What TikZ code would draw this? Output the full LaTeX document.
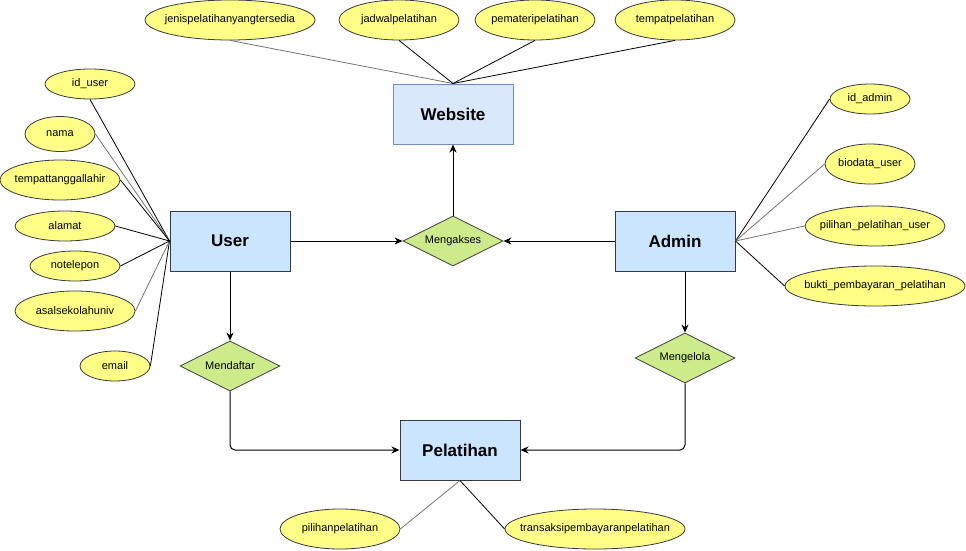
\documentclass[tikz,border=0pt]{standalone}
\usepackage{fontspec}
\setmainfont{Liberation Sans}
\usetikzlibrary{shapes}
\usetikzlibrary{arrows.meta}

\definecolor{entityfill}{HTML}{CCE5FF}
\definecolor{webfill}{HTML}{DAE8FC}
\definecolor{webline}{HTML}{6C8EBF}
\definecolor{attrfill}{HTML}{FFFF88}
\definecolor{relfill}{HTML}{CDEB8B}
\definecolor{darkline}{HTML}{36393D}

\begin{document}
\begin{tikzpicture}[x=1pt,y=-1pt]
	\tikzstyle{entity}=[rectangle,draw=darkline,fill=entityfill,line width=1pt,minimum width=120pt,minimum height=60pt,inner sep=0pt,font=\fontsize{17}{20}\selectfont\bfseries]
	\tikzstyle{web entity}=[entity,draw=webline,fill=webfill]
	\tikzstyle{attribute}=[ellipse,draw=darkline,fill=attrfill,line width=0.8pt,inner xsep=-25pt,inner ysep=0pt,minimum height=30pt,font=\fontsize{11}{13}\selectfont]
	\tikzstyle{relation}=[diamond,aspect=2,draw=darkline,fill=relfill,line width=0.8pt,inner sep=0pt,minimum width=100pt,minimum height=50pt,font=\fontsize{11}{13}\selectfont]
	\tikzstyle{edge}=[-,black,line width=0.8pt]
	\tikzstyle{light edge}=[-,black!55,line width=0.8pt]
	\tikzstyle{arrow}=[-{Stealth[length=8pt,width=7pt,inset=2.5pt]},black,line width=1pt]

	\useasboundingbox (0,0) rectangle (966,551);

	% entitas
	\node[web entity] (website) at (453,114) {Website};
	\node[entity] (user) at (230,241) {User};
	\node[entity] (admin) at (675,241) {Admin};
	\node[entity] (pelatihan) at (460,450) {Pelatihan};

	% relasi
	\node[relation] (mengakses) at (453,241) {Mengakses};
	\node[relation] (mendaftar) at (230,366) {Mendaftar};
	\node[relation] (mengelola) at (685,358) {Mengelola};

	% atribut website
	\node[attribute,minimum width=170pt,minimum height=40pt] (jenis) at (230,20) {jenispelatihanyangtersedia};
	\node[attribute,minimum width=120pt,minimum height=40pt] (jadwal) at (399,20) {jadwalpelatihan};
	\node[attribute,minimum width=120pt,minimum height=40pt] (pemateri) at (535,20) {pemateripelatihan};
	\node[attribute,minimum width=120pt,minimum height=40pt] (tempat) at (675,20) {tempatpelatihan};

	% atribut user
	\node[attribute,minimum width=90pt] (iduser) at (90,84) {id\_user};
	\node[attribute,minimum width=70pt,minimum height=35pt] (nama) at (60,134) {nama};
	\node[attribute,minimum width=120pt,minimum height=40pt] (ttl) at (60,180) {tempattanggallahir};
	\node[attribute,minimum width=100pt] (alamat) at (65,226) {alamat};
	\node[attribute,minimum width=90pt] (notelp) at (75,266) {notelepon};
	\node[attribute,minimum width=120pt,minimum height=40pt] (asal) at (75,311) {asalsekolahuniv};
	\node[attribute,minimum width=70pt] (email) at (115,366) {email};

	% atribut admin
	\node[attribute,minimum width=80pt] (idadmin) at (870,99) {id\_admin};
	\node[attribute,minimum width=90pt,minimum height=40pt] (biodata) at (870,164) {biodata\_user};
	\node[attribute,minimum width=140pt,minimum height=40pt] (pilihanuser) at (875,226) {pilihan\_pelatihan\_user};
	\node[attribute,minimum width=180pt,minimum height=40pt] (bukti) at (875,286) {bukti\_pembayaran\_pelatihan};

	% atribut pelatihan
	\node[attribute,minimum width=120pt,minimum height=40pt] (pilihan) at (340,529) {pilihanpelatihan};
	\node[attribute,minimum width=180pt,minimum height=40pt] (transaksi) at (595,529) {transaksipembayaranpelatihan};

	\draw[light edge] (jenis.south) -- (website.north);
	\draw[edge] (jadwal.south) -- (website.north);
	\draw[edge] (pemateri.south) -- (website.north);
	\draw[edge] (tempat.south) -- (website.north);

	\draw[edge] (iduser.south) -- (user.west);
	\draw[light edge] (nama.east) -- (user.west);
	\draw[edge] (ttl.east) -- (user.west);
	\draw[edge] (alamat.east) -- (user.west);
	\draw[edge] (notelp.east) -- (user.west);
	\draw[light edge] (asal.east) -- (user.west);
	\draw[edge] (email.east) -- (user.west);

	\draw[edge] (idadmin.west) -- (admin.east);
	\draw[light edge] (biodata.west) -- (admin.east);
	\draw[light edge] (pilihanuser.west) -- (admin.east);
	\draw[edge] (bukti.west) -- (admin.east);

	\draw[light edge] (pilihan.east) -- (pelatihan.south);
	\draw[edge] (transaksi.west) -- (pelatihan.south);

	\draw[arrow] (user.east) -- (mengakses.west);
	\draw[arrow] (admin.west) -- (mengakses.east);
	\draw[arrow] (mengakses.north) -- (website.south);
	\draw[arrow] (user.south) -- (mendaftar.north);
	\draw[arrow] (admin.south -| mengelola.north) -- (mengelola.north);
	\draw[arrow,rounded corners=5pt] (mendaftar.south) |- (pelatihan.west);
	\draw[arrow,rounded corners=5pt] (mengelola.south) |- (pelatihan.east);
\end{tikzpicture}
\end{document}
